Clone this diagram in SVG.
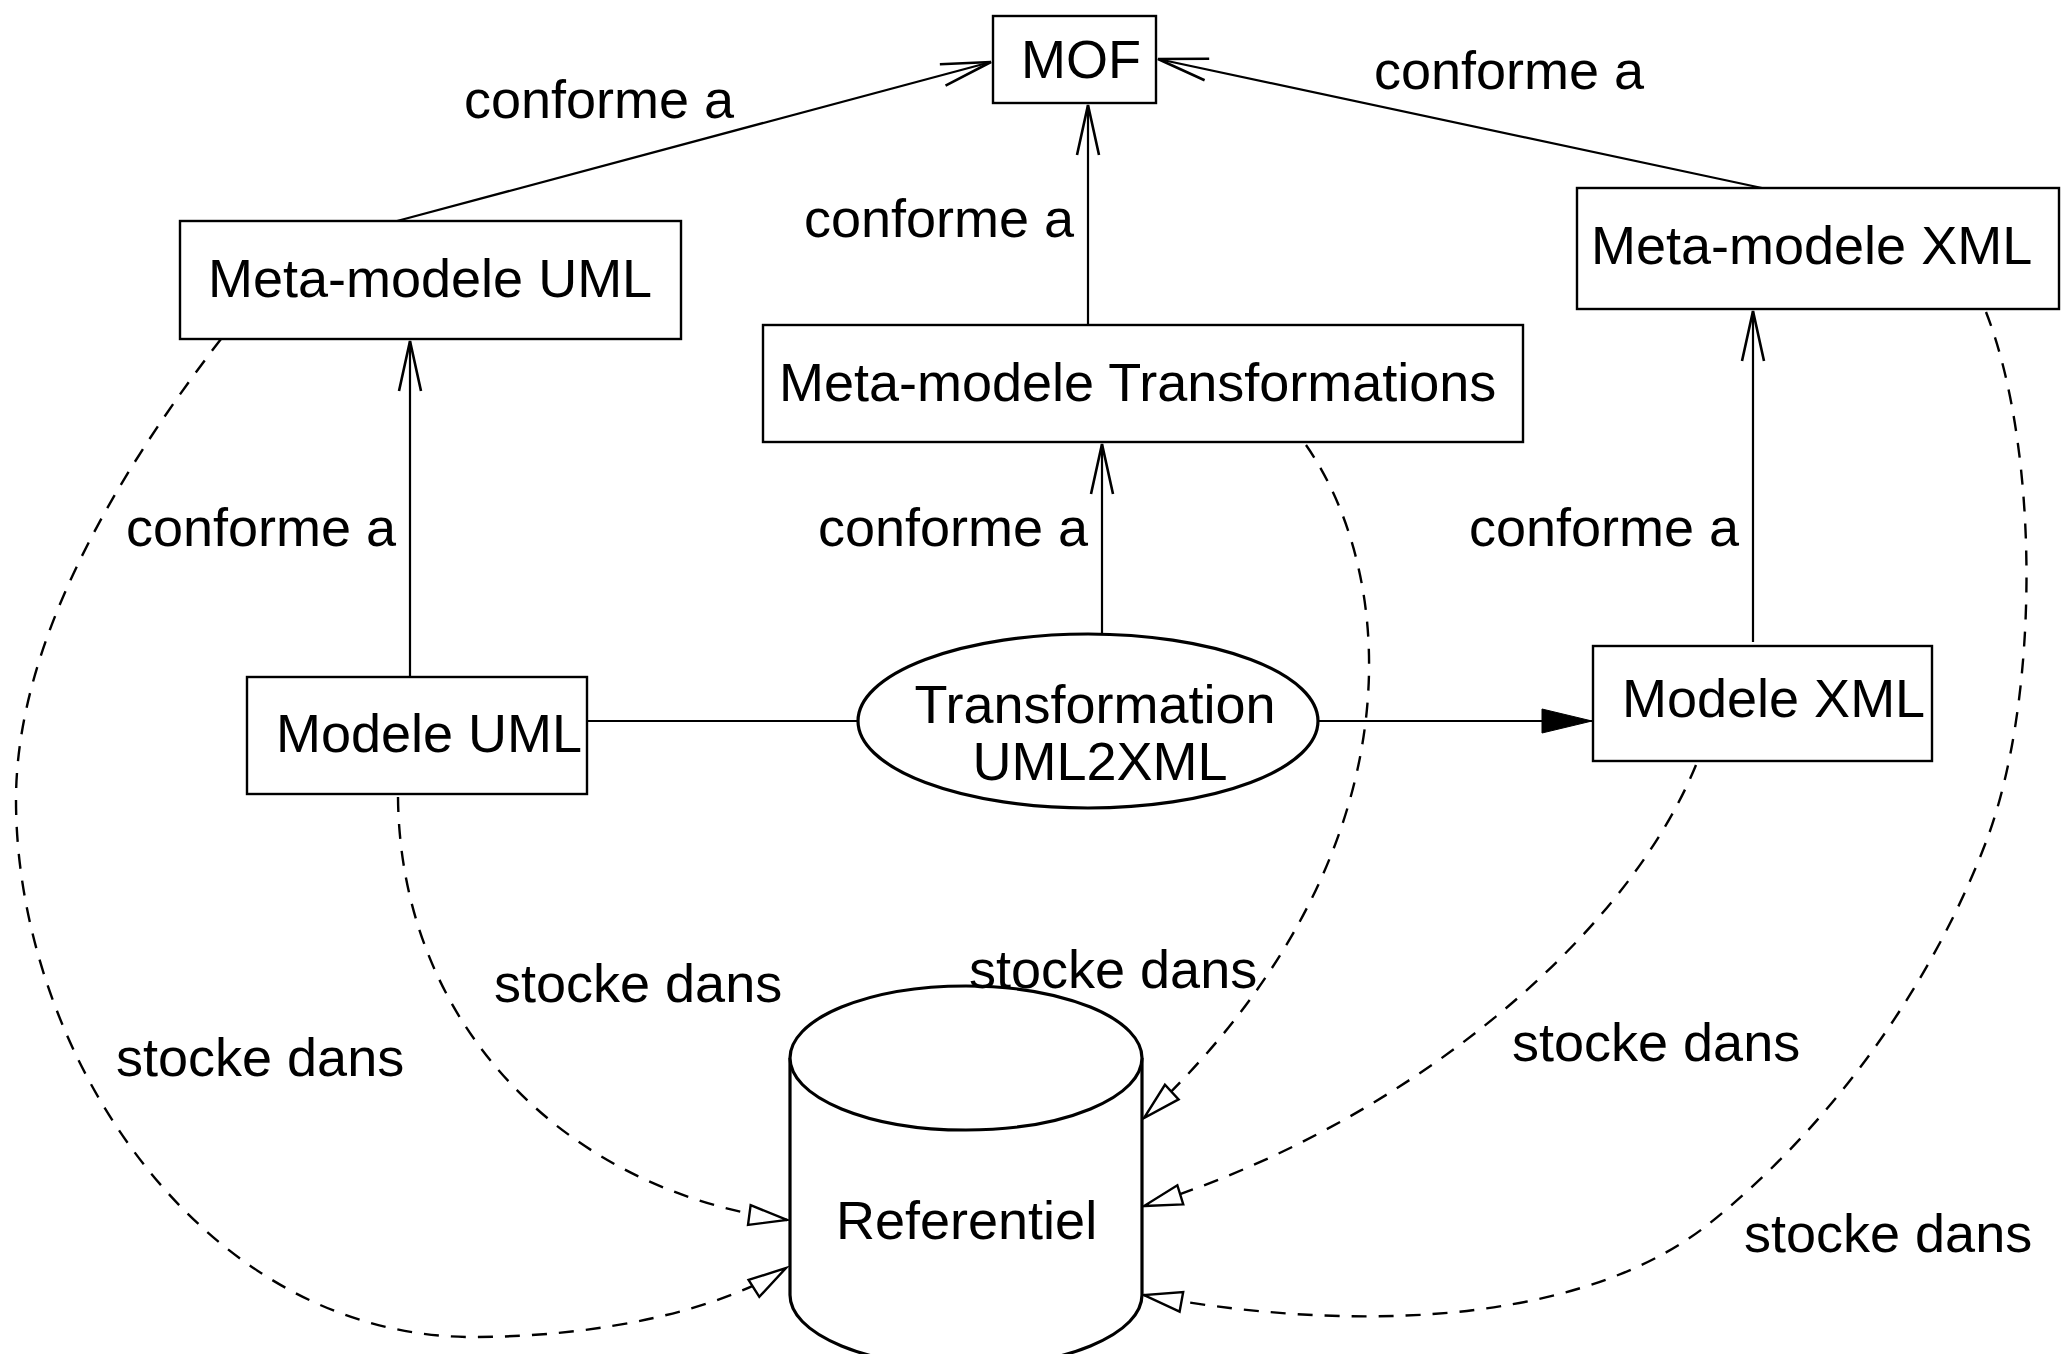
<svg xmlns="http://www.w3.org/2000/svg" width="2062" height="1354" viewBox="0 0 2062 1354">
<style>
.box{fill:#fff;stroke:#000;stroke-width:2.4}
.thick{fill:#fff;stroke:#000;stroke-width:3.2}
.t{font-family:"Liberation Sans",Arial,sans-serif;font-size:54px;fill:#000}
.line{fill:none;stroke:#000;stroke-width:2.2}
.dash{fill:none;stroke:#000;stroke-width:2.4;stroke-dasharray:15 12}
</style>
<defs>
<marker id="open" markerUnits="userSpaceOnUse" markerWidth="60" markerHeight="30" refX="52" refY="12" orient="auto" overflow="visible">
<path d="M2,1 L52,12 L2,23" fill="none" stroke="#000" stroke-width="2.6"/>
</marker>
<marker id="filled" markerUnits="userSpaceOnUse" markerWidth="60" markerHeight="30" refX="50" refY="13" orient="auto" overflow="visible">
<path d="M0,1 L50,13 L0,25 Z" fill="#000" stroke="#000" stroke-width="1"/>
</marker>
<marker id="hollow" markerUnits="userSpaceOnUse" markerWidth="50" markerHeight="30" refX="40" refY="11" orient="auto" overflow="visible">
<path d="M2,1 L40,11 L2,21 Z" fill="#fff" stroke="#000" stroke-width="2.4"/>
</marker>
</defs>

<g id="connectors">
<line class="line" x1="397" y1="221" x2="991" y2="62" marker-end="url(#open)"/>
<line class="line" x1="1088" y1="325" x2="1088" y2="105" marker-end="url(#open)"/>
<line class="line" x1="1762" y1="188" x2="1158" y2="59" marker-end="url(#open)"/>
<line class="line" x1="410" y1="677" x2="410" y2="341" marker-end="url(#open)"/>
<line class="line" x1="1102" y1="634" x2="1102" y2="444" marker-end="url(#open)"/>
<line class="line" x1="1753" y1="642" x2="1753" y2="311" marker-end="url(#open)"/>
<line class="line" x1="587" y1="721" x2="858" y2="721"/>
<line class="line" x1="1318" y1="721" x2="1592" y2="721" marker-end="url(#filled)"/>
<path class="dash" d="M221,339 C120,470 16,640 16,800 C16,1050 200,1337 473,1337 C600,1337 720,1310 786,1268" marker-end="url(#hollow)"/>
<path class="dash" d="M398,797 C400,1020 560,1190 787,1220" marker-end="url(#hollow)"/>
<path class="dash" d="M1306,445 C1400,580 1420,860 1144,1118" marker-end="url(#hollow)"/>
<path class="dash" d="M1696,765 C1620,950 1390,1130 1144,1206" marker-end="url(#hollow)"/>
<path class="dash" d="M1986,312 C2040,450 2040,700 1986,842 C1940,963 1850,1110 1710,1223 C1598,1313 1390,1340 1144,1295" marker-end="url(#hollow)"/>
</g>

<g id="mof">
<rect class="box" x="993" y="16" width="163" height="87"/>
<text class="t" x="1081" y="78" text-anchor="middle">MOF</text>
</g>
<g id="metamodele-uml">
<rect class="box" x="180" y="221" width="501" height="118"/>
<text class="t" x="208" y="297">Meta-modele UML</text>
</g>
<g id="metamodele-transformations">
<rect class="box" x="763" y="325" width="760" height="117"/>
<text class="t" x="779" y="401">Meta-modele Transformations</text>
</g>
<g id="metamodele-xml">
<rect class="box" x="1577" y="188" width="482" height="121"/>
<text class="t" x="1591" y="264">Meta-modele XML</text>
</g>
<g id="modele-uml">
<rect class="box" x="247" y="677" width="340" height="117"/>
<text class="t" x="276" y="752">Modele UML</text>
</g>
<g id="transformation">
<ellipse class="thick" cx="1088" cy="721" rx="230" ry="87"/>
<text class="t" x="1095" y="723" text-anchor="middle">Transformation</text>
<text class="t" x="1100" y="780" text-anchor="middle">UML2XML</text>
</g>
<g id="modele-xml">
<rect class="box" x="1593" y="646" width="339" height="115"/>
<text class="t" x="1622" y="717">Modele XML</text>
</g>
<g id="referentiel">
<path class="thick" d="M790,1058 L790,1295 A176,72 0 0 0 1142,1295 L1142,1058"/>
<ellipse class="thick" cx="966" cy="1058" rx="176" ry="72"/>
<text class="t" x="836" y="1239">Referentiel</text>
</g>

<g id="labels">
<text class="t" x="464" y="118">conforme a</text>
<text class="t" x="1374" y="89">conforme a</text>
<text class="t" x="804" y="237">conforme a</text>
<text class="t" x="126" y="546">conforme a</text>
<text class="t" x="818" y="546">conforme a</text>
<text class="t" x="1469" y="546">conforme a</text>
<text class="t" x="494" y="1002">stocke dans</text>
<text class="t" x="969" y="988">stocke dans</text>
<text class="t" x="116" y="1076">stocke dans</text>
<text class="t" x="1512" y="1061">stocke dans</text>
<text class="t" x="1744" y="1252">stocke dans</text>
</g>
</svg>
